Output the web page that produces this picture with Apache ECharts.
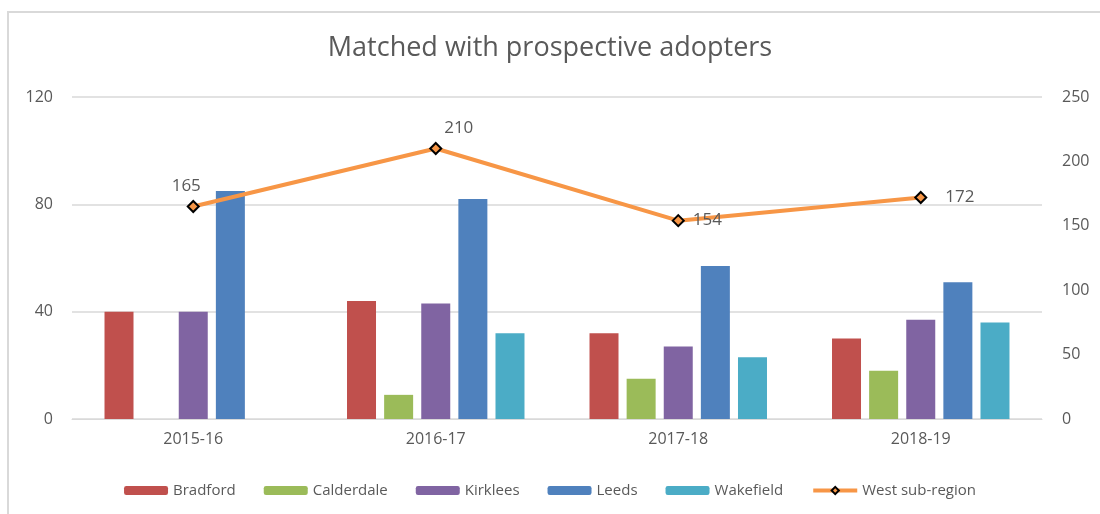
<!DOCTYPE html>
<html>
<head>
    <meta charset="UTF-8">
    <title>Matched with prospective adopters</title>
    <script type="text/javascript" src="https://cdn.jsdelivr.net/npm/echarts@6/dist/echarts.min.js"></script>
    <style type="text/css">
        html, body { margin: 0; padding: 0; background: #fff; }
        #chart { width: 1100px; height: 514px; }
    </style>
</head>
<body>
<div id="chart"></div>

<script type="text/javascript">
    var years = ['2015-16', '2016-17', '2017-18', '2018-19'];
    var bradford   = [40, 44, 32, 30];
    var calderdale = [null, 9, 15, 18];
    var kirklees   = [40, 43, 27, 37];
    var leeds      = [85, 82, 57, 51];
    var wakefield  = [null, 32, 23, 36];
    var westSubRegion = [165, 210, 154, 172];

    var textColor = '#595959';
    var fontName = '"Open Sans", "Noto Sans", sans-serif';

    // label placement per point, as in the original
    var lineLabels = [
        { position: 'top', offset: [-7, 0] },
        { position: 'top', offset: [23, 0] },
        { position: 'right', distance: 8 },
        { position: 'right', distance: 18 }
    ];

    function barSeries(name, data, color) {
        return {
            name: name,
            type: 'bar',
            yAxisIndex: 0,
            data: data,
            barWidth: 29,
            barGap: '28%',
            itemStyle: { color: color }
        };
    }

    var chart = echarts.init(document.getElementById('chart'));
    chart.setOption({
        animation: false,
        textStyle: { fontFamily: fontName },
        graphic: [{
            type: 'rect',
            shape: { x: 8, y: 12, width: 1200, height: 600 },
            style: { fill: null, stroke: '#d9d9d9', lineWidth: 2 },
            silent: true
        }],
        title: {
            text: 'Matched with prospective adopters',
            left: 'center',
            top: 30,
            textStyle: { color: textColor, fontSize: 27, fontWeight: 'normal', fontFamily: fontName }
        },
        legend: {
            bottom: 11,
            left: 'center',
            itemWidth: 44,
            itemHeight: 9,
            itemGap: 28,
            textStyle: { color: textColor, fontSize: 15, fontFamily: fontName },
            data: ['Bradford', 'Calderdale', 'Kirklees', 'Leeds', 'Wakefield',
                { name: 'West sub-region', lineStyle: { width: 4 } }]
        },
        grid: { left: 72, right: 58, top: 97, bottom: 95 },
        xAxis: {
            type: 'category',
            data: years,
            axisTick: { show: false },
            axisLine: { lineStyle: { color: '#d9d9d9' } },
            axisLabel: { color: textColor, fontSize: 16, margin: 12 }
        },
        yAxis: [{
            type: 'value',
            min: 0,
            max: 120,
            interval: 40,
            axisLine: { show: false },
            axisTick: { show: false },
            axisLabel: { color: textColor, fontSize: 16, margin: 19 },
            splitLine: { lineStyle: { color: '#d9d9d9', width: 1.5 } }
        }, {
            type: 'value',
            min: 0,
            max: 250,
            interval: 50,
            position: 'right',
            axisLine: { show: false },
            axisTick: { show: false },
            axisLabel: { color: textColor, fontSize: 16, margin: 20 },
            splitLine: { show: false }
        }],
        series: [
            barSeries('Bradford', bradford, '#C0504D'),
            barSeries('Calderdale', calderdale, '#9BBB59'),
            barSeries('Kirklees', kirklees, '#8064A2'),
            barSeries('Leeds', leeds, '#4F81BD'),
            barSeries('Wakefield', wakefield, '#4BACC6'),
            {
                name: 'West sub-region',
                type: 'line',
                yAxisIndex: 1,
                data: westSubRegion.map(function (v, i) {
                    return { value: v, label: lineLabels[i] };
                }),
                symbol: 'diamond',
                symbolSize: 11,
                lineStyle: { color: '#F79646', width: 4 },
                itemStyle: { color: '#F79646', borderColor: '#000', borderWidth: 2 },
                label: { show: true, color: textColor, fontSize: 17 },
                z: 5
            }
        ]
    });
</script>

</body>
</html>
